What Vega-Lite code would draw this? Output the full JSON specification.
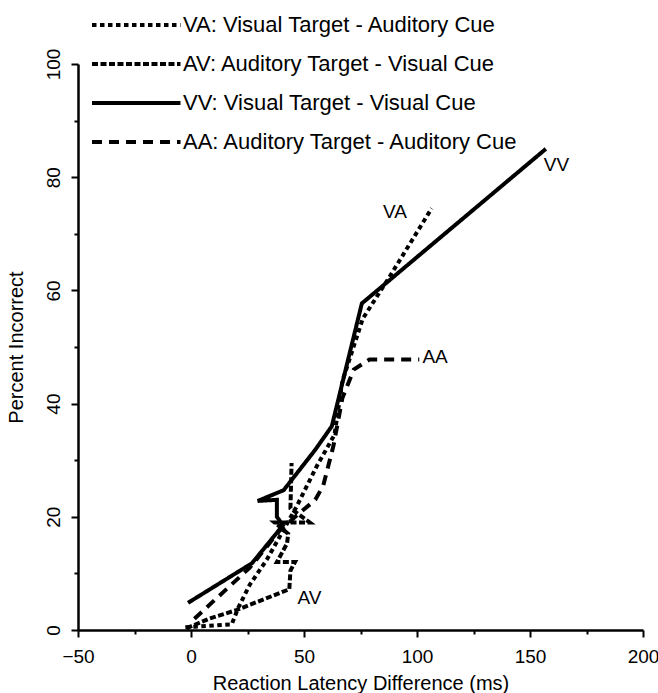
{
  "$schema": "https://vega.github.io/schema/vega-lite/v6.json",
  "width": 565,
  "height": 566,
  "autosize": "none",
  "padding": {"left": 78, "top": 64, "right": 15, "bottom": 63},
  "background": "white",
  "config": {"view": {"stroke": null}, "font": "Liberation Sans"},
  "datasets": {
    "lines": [
      {"series": "VA: Visual Target - Auditory Cue", "i": 1, "latency": -2.5, "pct": 0.5},
      {"series": "VA: Visual Target - Auditory Cue", "i": 2, "latency": 18, "pct": 1},
      {"series": "VA: Visual Target - Auditory Cue", "i": 3, "latency": 21, "pct": 4},
      {"series": "VA: Visual Target - Auditory Cue", "i": 4, "latency": 26, "pct": 8},
      {"series": "VA: Visual Target - Auditory Cue", "i": 5, "latency": 33.5, "pct": 12.4},
      {"series": "VA: Visual Target - Auditory Cue", "i": 6, "latency": 40, "pct": 17},
      {"series": "VA: Visual Target - Auditory Cue", "i": 7, "latency": 46.7, "pct": 21.8},
      {"series": "VA: Visual Target - Auditory Cue", "i": 8, "latency": 55.6, "pct": 28.9},
      {"series": "VA: Visual Target - Auditory Cue", "i": 9, "latency": 63.5, "pct": 34.5},
      {"series": "VA: Visual Target - Auditory Cue", "i": 10, "latency": 67, "pct": 44},
      {"series": "VA: Visual Target - Auditory Cue", "i": 11, "latency": 76, "pct": 55},
      {"series": "VA: Visual Target - Auditory Cue", "i": 12, "latency": 88, "pct": 62.5},
      {"series": "VA: Visual Target - Auditory Cue", "i": 13, "latency": 106.5, "pct": 74.5},
      {"series": "AV: Auditory Target - Visual Cue", "i": 1, "latency": -2, "pct": 0.3},
      {"series": "AV: Auditory Target - Visual Cue", "i": 2, "latency": 8, "pct": 2},
      {"series": "AV: Auditory Target - Visual Cue", "i": 3, "latency": 20, "pct": 3.5},
      {"series": "AV: Auditory Target - Visual Cue", "i": 4, "latency": 43.5, "pct": 7.2},
      {"series": "AV: Auditory Target - Visual Cue", "i": 5, "latency": 44, "pct": 10.5},
      {"series": "AV: Auditory Target - Visual Cue", "i": 6, "latency": 46, "pct": 12},
      {"series": "AV: Auditory Target - Visual Cue", "i": 7, "latency": 38, "pct": 12},
      {"series": "AV: Auditory Target - Visual Cue", "i": 8, "latency": 42.5, "pct": 15.3},
      {"series": "AV: Auditory Target - Visual Cue", "i": 9, "latency": 43, "pct": 17},
      {"series": "AV: Auditory Target - Visual Cue", "i": 10, "latency": 37, "pct": 19},
      {"series": "AV: Auditory Target - Visual Cue", "i": 11, "latency": 52.5, "pct": 19},
      {"series": "AV: Auditory Target - Visual Cue", "i": 12, "latency": 44, "pct": 21.5},
      {"series": "AV: Auditory Target - Visual Cue", "i": 13, "latency": 44.5, "pct": 29.5},
      {"series": "VV: Visual Target - Visual Cue", "i": 1, "latency": -1.3, "pct": 4.8},
      {"series": "VV: Visual Target - Visual Cue", "i": 2, "latency": 27, "pct": 11.8},
      {"series": "VV: Visual Target - Visual Cue", "i": 3, "latency": 40.7, "pct": 18.5},
      {"series": "VV: Visual Target - Visual Cue", "i": 4, "latency": 38, "pct": 20},
      {"series": "VV: Visual Target - Visual Cue", "i": 5, "latency": 38, "pct": 23},
      {"series": "VV: Visual Target - Visual Cue", "i": 6, "latency": 29.5, "pct": 22.8},
      {"series": "VV: Visual Target - Visual Cue", "i": 7, "latency": 41, "pct": 24.7},
      {"series": "VV: Visual Target - Visual Cue", "i": 8, "latency": 54.9, "pct": 31.8},
      {"series": "VV: Visual Target - Visual Cue", "i": 9, "latency": 62.3, "pct": 36},
      {"series": "VV: Visual Target - Visual Cue", "i": 10, "latency": 75.6, "pct": 57.7},
      {"series": "VV: Visual Target - Visual Cue", "i": 11, "latency": 157, "pct": 85},
      {"series": "AA: Auditory Target - Auditory Cue", "i": 1, "latency": 1.5, "pct": 2},
      {"series": "AA: Auditory Target - Auditory Cue", "i": 2, "latency": 26, "pct": 11},
      {"series": "AA: Auditory Target - Auditory Cue", "i": 3, "latency": 39.5, "pct": 17.7},
      {"series": "AA: Auditory Target - Auditory Cue", "i": 4, "latency": 47, "pct": 20.3},
      {"series": "AA: Auditory Target - Auditory Cue", "i": 5, "latency": 55, "pct": 23},
      {"series": "AA: Auditory Target - Auditory Cue", "i": 6, "latency": 58.5, "pct": 25.5},
      {"series": "AA: Auditory Target - Auditory Cue", "i": 7, "latency": 63, "pct": 32.5},
      {"series": "AA: Auditory Target - Auditory Cue", "i": 8, "latency": 67, "pct": 41},
      {"series": "AA: Auditory Target - Auditory Cue", "i": 9, "latency": 72, "pct": 46},
      {"series": "AA: Auditory Target - Auditory Cue", "i": 10, "latency": 79, "pct": 47.8},
      {"series": "AA: Auditory Target - Auditory Cue", "i": 11, "latency": 101, "pct": 47.8}
    ],
    "labels": [
      {"name": "VV", "lx": 161.7, "ly": 82.2},
      {"name": "VA", "lx": 90.3, "ly": 73.9},
      {"name": "AA", "lx": 108, "ly": 48.3},
      {"name": "AV", "lx": 52.4, "ly": 5.6}
    ]
  },
  "resolve": {"axis": {"x": "independent", "y": "independent"}},
  "layer": [
    {
      "data": {"name": "lines"},
      "mark": {"type": "line", "strokeWidth": 4, "color": "black", "strokeJoin": "miter", "strokeCap": "butt", "clip": false},
      "encoding": {
        "x": {
          "field": "latency", "type": "quantitative",
          "scale": {"domain": [-50, 200], "nice": false, "zero": false},
          "axis": {
            "orient": "bottom",
            "values": [-50, 0, 50, 100, 150, 200],
            "ticks": true, "tickSize": 7,
            "labelFontSize": 19, "labelPadding": 10, "labelColor": "black", "labelFont": "Liberation Sans",
            "title": "Reaction Latency Difference (ms)", "titleFontSize": 20, "titleFontWeight": "normal",
            "titleColor": "black", "titleFont": "Liberation Sans", "titlePadding": 7,
            "grid": false, "domainColor": "black", "domainWidth": 2.5, "tickColor": "black", "tickWidth": 2,
            "labelOverlap": false, "labelFlush": false
          }
        },
        "y": {
          "field": "pct", "type": "quantitative",
          "scale": {"domain": [0, 100], "nice": false},
          "axis": {
            "orient": "left",
            "values": [0, 20, 40, 60, 80, 100],
            "ticks": true, "tickSize": 7,
            "labelAngle": 270, "labelAlign": "center", "labelBaseline": "bottom",
            "labelFontSize": 19, "labelPadding": 8, "labelColor": "black", "labelFont": "Liberation Sans",
            "title": "Percent Incorrect", "titleFontSize": 20, "titleFontWeight": "normal",
            "titleColor": "black", "titleFont": "Liberation Sans", "titlePadding": 18,
            "grid": false, "domainColor": "black", "domainWidth": 2.5, "tickColor": "black", "tickWidth": 2,
            "labelOverlap": false, "labelFlush": false
          }
        },
        "strokeDash": {
          "field": "series", "type": "nominal",
          "scale": {
            "domain": ["VA: Visual Target - Auditory Cue", "AV: Auditory Target - Visual Cue", "VV: Visual Target - Visual Cue", "AA: Auditory Target - Auditory Cue"],
            "range": [[4.5, 3.5], [6, 2.5], [1, 0], [10, 7]]
          },
          "legend": {
            "orient": "none", "legendX": 12, "legendY": -56, "title": null,
            "symbolType": "M-1,0H4.9", "symbolSize": 900, "symbolStrokeWidth": 4, "symbolStrokeColor": "black",
            "labelFontSize": 22, "labelFont": "Liberation Sans", "labelColor": "black", "labelLimit": 500,
            "rowPadding": 11, "labelOffset": 59, "padding": 0
          }
        },
        "order": {"field": "i", "type": "quantitative"}
      }
    },
    {
      "data": {"name": "labels"},
      "mark": {"type": "text", "fontSize": 19, "font": "Liberation Sans", "color": "black", "align": "center", "baseline": "middle"},
      "encoding": {
        "x": {"field": "lx", "type": "quantitative",
          "axis": {"orient": "bottom", "values": [-25, 25, 75, 125, 175], "ticks": true, "tickSize": 4, "tickWidth": 2, "tickColor": "black",
                   "labels": false, "domain": false, "title": null, "grid": false}},
        "y": {"field": "ly", "type": "quantitative",
          "axis": {"orient": "left", "values": [10, 30, 50, 70, 90], "ticks": true, "tickSize": 4, "tickWidth": 2, "tickColor": "black",
                   "labels": false, "domain": false, "title": null, "grid": false}},
        "text": {"field": "name", "type": "nominal"}
      }
    }
  ]
}
